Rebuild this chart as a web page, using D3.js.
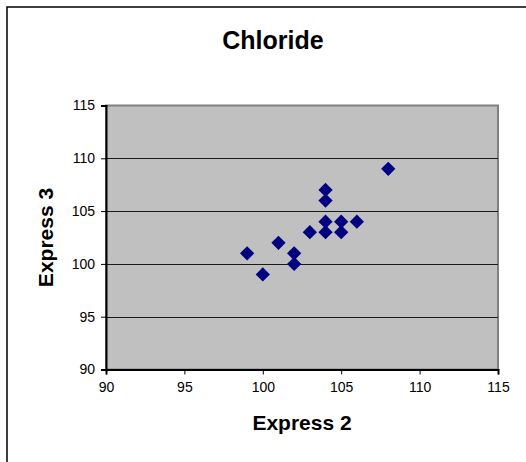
<!DOCTYPE html>
<html><head><meta charset="utf-8">
<script src="https://cdn.jsdelivr.net/npm/d3@7"></script>
<style>body{margin:0;background:#fff;}svg{display:block;}</style>
</head><body>
<script>
const title = "Chloride";
const xLabel = "Express 2";
const yLabel = "Express 3";
const express2 = [99, 100, 101, 102, 102, 103, 104, 104, 104, 104, 105, 105, 106, 108];
const express3 = [101, 99, 102, 101, 100, 103, 107, 106, 104, 103, 104, 103, 104, 109];
const xTicks = [90, 95, 100, 105, 110, 115];
const yTicks = [90, 95, 100, 105, 110, 115];

const W = 526, H = 462;
const svg = d3.select("body").append("svg").attr("width", W).attr("height", H);
const font = "Liberation Sans, Arial, sans-serif";

// outer frame
svg.append("rect").attr("x", 7).attr("y", 7).attr("width", W + 10).attr("height", H + 10)
  .attr("fill", "#fff").attr("stroke", "#000").attr("stroke-width", 1.5);

const L = 106, R = 498, T = 105.5, B = 369.5;
const x = d3.scaleLinear().domain([90, 115]).range([L, R]);
const y = d3.scaleLinear().domain([90, 115]).range([B, T]);

// plot background
svg.append("rect").attr("x", L).attr("y", T).attr("width", R - L).attr("height", B - T)
  .attr("fill", "#c0c0c0").attr("stroke", "#808080").attr("stroke-width", 2);

// gridlines
svg.append("g").selectAll("line").data(yTicks.filter(d => d > 90 && d < 115)).join("line")
  .attr("x1", L).attr("x2", R).attr("y1", d => Math.round(y(d)) + 0.5).attr("y2", d => Math.round(y(d)) + 0.5)
  .attr("stroke", "#1a1a1a").attr("stroke-width", 1);

// axes
const xAxis = svg.append("g").attr("transform", `translate(0,${B})`)
  .call(d3.axisBottom(x).tickValues(xTicks).tickSize(5).tickPadding(8).tickFormat(d3.format("d")));
const yAxis = svg.append("g").attr("transform", `translate(${L},0)`)
  .call(d3.axisLeft(y).tickValues(yTicks).tickSize(5).tickPadding(6).tickFormat(d3.format("d")));
[xAxis, yAxis].forEach(a => {
  a.select(".domain").attr("stroke", "#000").attr("stroke-width", 2);
  a.selectAll(".tick line").attr("stroke", "#000").attr("stroke-width", 1);
  a.selectAll("text").attr("font-family", font).attr("font-size", 14).attr("fill", "#000");
});

// points
const diamond = d3.symbol().type(d3.symbolDiamond2).size(130);
svg.append("g").selectAll("path").data(express2.map((v, i) => [v, express3[i]])).join("path")
  .attr("d", diamond)
  .attr("transform", d => `translate(${x(d[0])},${y(d[1])})`)
  .attr("fill", "#000080");

// titles
svg.append("text").attr("x", 273).attr("y", 49).attr("text-anchor", "middle")
  .attr("font-family", font).attr("font-weight", "bold").attr("font-size", 25).text(title);
svg.append("text").attr("x", (L + R) / 2).attr("y", 430).attr("text-anchor", "middle")
  .attr("font-family", font).attr("font-weight", "bold").attr("font-size", 21).text(xLabel);
svg.append("text").attr("transform", `translate(53,${(T + B) / 2}) rotate(-90)`).attr("text-anchor", "middle")
  .attr("font-family", font).attr("font-weight", "bold").attr("font-size", 21).text(yLabel);
</script>
</body></html>
